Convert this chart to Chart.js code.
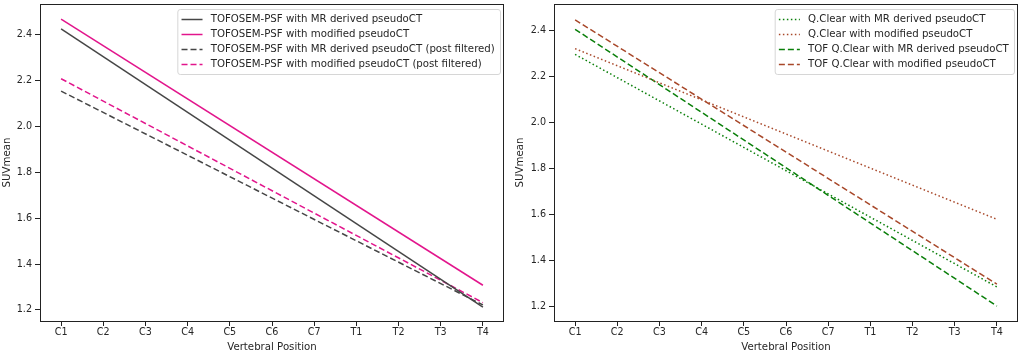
<!DOCTYPE html>
<html>
<head>
<meta charset="utf-8">
<script src="https://cdn.jsdelivr.net/npm/chart.js@4.4.1/dist/chart.umd.min.js"></script>
<style>
  html, body { margin: 0; padding: 0; background: #fff; }
  .panel { position: absolute; top: 0; width: 511px; height: 355px; }
  #left { left: 0; }
  #right { left: 511px; }
</style>
</head>
<body>
<div class="panel" id="left"><canvas id="leftChart"></canvas></div>
<div class="panel" id="right"><canvas id="rightChart"></canvas></div>
<script>
// vertebral levels on the x axis
const positions = ['C1', 'C2', 'C3', 'C4', 'C5', 'C6', 'C7', 'T1', 'T2', 'T3', 'T4'];
const yTicks = [1.2, 1.4, 1.6, 1.8, 2.0, 2.2, 2.4];

// fitted lines: only end points, drawn straight across gaps
const psfMr = [2.426, null, null, null, null, null, null, null, null, null, 1.212];
const psfMod = [2.469, null, null, null, null, null, null, null, null, null, 1.308];
const psfMrFilt = [2.155, null, null, null, null, null, null, null, null, null, 1.222];
const psfModFilt = [2.209, null, null, null, null, null, null, null, null, null, 1.232];

const qcMr = [2.298, null, null, null, null, null, null, null, null, null, 1.287];
const qcMod = [2.323, null, null, null, null, null, null, null, null, null, 1.581];
const tofQcMr = [2.407, null, null, null, null, null, null, null, null, null, 1.204];
const tofQcMod = [2.448, null, null, null, null, null, null, null, null, null, 1.299];

const FONT = 'DejaVu Sans';
const TEXT = '#262626';
const GRAY = '#464646';
const PINK = '#e2158c';
const GREEN = '#0a7f0a';
const BROWN = '#a8482a';
const DASH = [6, 3];
const DOT = [1.5, 2.5];

const line = (label, data, color, dash) => ({
  label,
  data,
  borderColor: color,
  backgroundColor: color,
  borderWidth: 1.5,
  borderDash: dash,
  pointRadius: 0,
  spanGaps: true,
  tension: 0,
});

// matplotlib-like frame and in-axes legend
const frameLegend = {
  id: 'frameLegend',
  afterDatasetsDraw(chart) {
    const { ctx, chartArea: a } = chart;
    ctx.save();
    ctx.strokeStyle = '#222';
    ctx.lineWidth = 1;
    ctx.strokeRect(Math.round(a.left) + 0.5, Math.round(a.top) + 0.5,
      Math.round(a.right - a.left) - 1, Math.round(a.bottom - a.top));

    const fs = 10.2;
    ctx.font = `${fs}px "${FONT}"`;
    const sets = chart.data.datasets;
    const textW = Math.max(...sets.map((d) => ctx.measureText(d.label).width));
    const pad = 4.2, handle = 21, gap = 8.2, row = 15;
    const w = pad + handle + gap + textW + pad + 1;
    const h = sets.length * row + 5;
    const x = a.right - 4 - w;
    const y = a.top + 5;

    ctx.beginPath();
    ctx.roundRect(x + 0.5, y + 0.5, w, h, 2.5);
    ctx.fillStyle = 'rgba(255,255,255,0.85)';
    ctx.fill();
    ctx.strokeStyle = '#d6d6d6';
    ctx.stroke();

    sets.forEach((d, i) => {
      const cy = y + 10.5 + i * row;
      ctx.beginPath();
      ctx.setLineDash(d.borderDash || []);
      ctx.strokeStyle = d.borderColor;
      ctx.lineWidth = 1.5;
      ctx.moveTo(x + pad, cy);
      ctx.lineTo(x + pad + handle, cy);
      ctx.stroke();
      ctx.setLineDash([]);
      ctx.fillStyle = TEXT;
      ctx.textBaseline = 'middle';
      ctx.fillText(d.label, x + pad + handle + gap, cy);
    });
    ctx.restore();
  },
};

function makeChart(canvas, datasets, yMin, yMax, padLeft, yWidth, padRight) {
  return new Chart(canvas.getContext('2d'), {
    type: 'line',
    data: { labels: positions, datasets },
    options: {
      responsive: true,
      maintainAspectRatio: false,
      animation: false,
      layout: { padding: { left: padLeft, right: padRight, top: 4, bottom: 0 } },
      plugins: { legend: { display: false }, tooltip: { enabled: false } },
      scales: {
        x: {
          type: 'category',
          offset: true,
          afterFit: (s) => { s.height = 34; s.paddingLeft = 0; s.paddingRight = 0; },
          grid: { display: true, drawOnChartArea: false, tickLength: 5, color: '#222', offset: false },
          border: { display: false },
          ticks: { color: TEXT, font: { family: FONT, size: 9.6 }, padding: 1, maxRotation: 0, autoSkip: false },
          title: { display: true, text: 'Vertebral Position', color: TEXT, font: { family: FONT, size: 10.2 }, padding: { top: 0, bottom: 2 } },
        },
        y: {
          min: yMin,
          max: yMax,
          afterFit: (s) => { s.width = yWidth; s.paddingTop = 0; s.paddingBottom = 0; },
          afterBuildTicks: (s) => { s.ticks = yTicks.map((v) => ({ value: v })); },
          grid: { display: true, drawOnChartArea: false, tickLength: 5, color: '#222' },
          border: { display: false },
          ticks: { color: TEXT, font: { family: FONT, size: 9.6 }, padding: 3, callback: (v) => v.toFixed(1) },
          title: { display: true, text: 'SUVmean', color: TEXT, font: { family: FONT, size: 10.2 }, padding: { top: 1, bottom: 0 } },
        },
      },
    },
    plugins: [frameLegend],
  });
}

makeChart(document.getElementById('leftChart'), [
  line('TOFOSEM-PSF with MR derived pseudoCT', psfMr, GRAY, []),
  line('TOFOSEM-PSF with modified pseudoCT', psfMod, PINK, []),
  line('TOFOSEM-PSF with MR derived pseudoCT (post filtered)', psfMrFilt, GRAY, DASH),
  line('TOFOSEM-PSF with modified pseudoCT (post filtered)', psfModFilt, PINK, DASH),
], 1.152, 2.535, 0, 40, 7);

makeChart(document.getElementById('rightChart'), [
  line('Q.Clear with MR derived pseudoCT', qcMr, GREEN, DOT),
  line('Q.Clear with modified pseudoCT', qcMod, BROWN, DOT),
  line('TOF Q.Clear with MR derived pseudoCT', tofQcMr, GREEN, DASH),
  line('TOF Q.Clear with modified pseudoCT', tofQcMod, BROWN, DASH),
], 1.139, 2.517, 2, 41, 4);
</script>
</body>
</html>
